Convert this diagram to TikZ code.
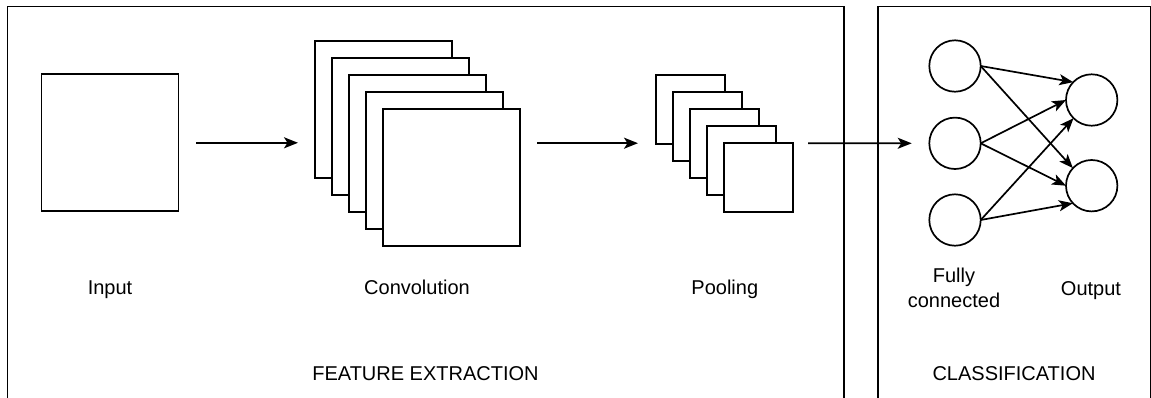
\documentclass[tikz,border=0pt]{standalone}
\usepackage{fontspec}
\setmainfont{Liberation Sans}
\usetikzlibrary{arrows.meta}

\tikzset{
  frame/.style={draw=black, line width=1.7pt},
  sheet/.style={draw=black, fill=white, line width=1.7pt, rectangle, inner sep=0pt, outer sep=0pt},
  bigsheet/.style={sheet, minimum size=137pt},
  smallsheet/.style={sheet, minimum size=69pt},
  neuron/.style={draw=black, fill=white, line width=1.7pt, circle, inner sep=0pt, outer sep=0pt, minimum size=51.4pt},
  lbl/.style={font=\fontsize{20}{24.6}\selectfont, inner sep=0pt, anchor=base},
  arr/.style={draw=black, line width=1.7pt, -{Stealth[length=14pt, width=11pt, inset=3.5pt]}},
}

\begin{document}
\begin{tikzpicture}[x=1pt, y=-1pt]
  \useasboundingbox (0,0) rectangle (1151,397);
  \clip (0,0) rectangle (1151,397);

  % section frames (open past the lower edge)
  \draw[frame] (7.5,6.5) rectangle (844,430);
  \draw[frame] (878,6.5) rectangle (1150.5,430);

  % input image
  \node[bigsheet] (in) at (110,142.8) {};

  % convolution feature maps, back to front
  \node[bigsheet] (conv1) at (383.2,109.2) {};
  \node[bigsheet] (conv2) at (400.3,126.2) {};
  \node[bigsheet] (conv3) at (417.4,143.2) {};
  \node[bigsheet] (conv4) at (434.5,160.2) {};
  \node[bigsheet] (conv5) at (451.6,177.2) {};

  % pooled maps, back to front
  \node[smallsheet] (pool1) at (690.8,109.2) {};
  \node[smallsheet] (pool2) at (707.8,126.2) {};
  \node[smallsheet] (pool3) at (724.8,143.2) {};
  \node[smallsheet] (pool4) at (741.8,160.2) {};
  \node[smallsheet] (pool5) at (758.8,177.2) {};

  % fully connected layer and output layer
  \node[neuron] (l1) at (955,66) {};
  \node[neuron] (l2) at (955,143.3) {};
  \node[neuron] (l3) at (955,220) {};
  \node[neuron] (r1) at (1091.7,100) {};
  \node[neuron] (r2) at (1091.7,185.7) {};

  % flow between stages
  \draw[arr, shorten <=17.5pt, shorten >=16.7pt] (in.east) -- (in.east -| conv1.west);
  \draw[arr, shorten <=17pt, shorten >=18.3pt] (conv3.east -| conv5.east) -- (conv3.east -| pool1.west);
  \draw[arr, shorten <=14.7pt, shorten >=17.6pt] (pool3.east -| pool5.east) -- (l2.west);

  % dense connections
  \draw[arr] (l1.east) -- (r1.136);
  \draw[arr] (l1.east) -- (r2.137);
  \draw[arr] (l2.east) -- (r1.180);
  \draw[arr] (l2.east) -- (r2.180);
  \draw[arr] (l3.east) -- (r1.225);
  \draw[arr] (l3.east) -- (r2.223);

  % labels
  \node[lbl] (tin) at (110,294.5) {Input};
  \node[lbl] (tconv) at (417,294.5) {Convolution};
  \node[lbl] (tpool) at (724.8,294.5) {Pooling};
  \node[lbl, anchor=center, align=center] (tfc) at (954,288) {Fully\\connected};
  \node[lbl] (tout) at (1091,295) {Output};
  \node[lbl] (tfe) at (425.5,380.5) {FEATURE EXTRACTION};
  \node[lbl] (tcl) at (1014,380.5) {CLASSIFICATION};
\end{tikzpicture}
\end{document}
